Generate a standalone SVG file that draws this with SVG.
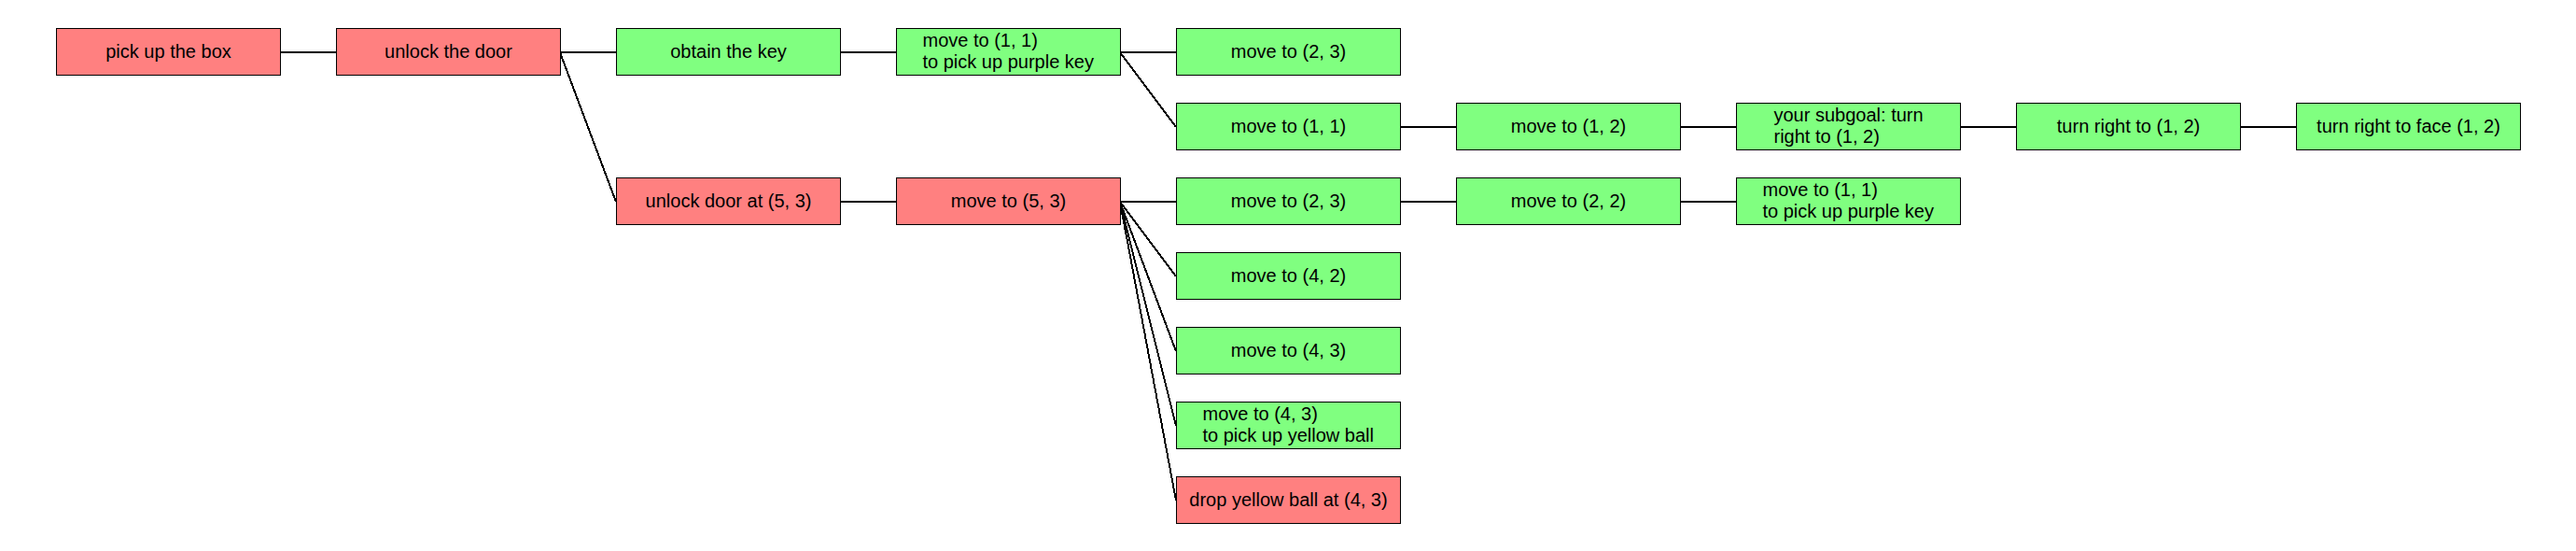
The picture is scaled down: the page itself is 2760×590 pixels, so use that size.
<svg xmlns="http://www.w3.org/2000/svg" width="2760" height="590" viewBox="0 0 2760 590">
<style>
.box{stroke:#000;stroke-width:1}
.r{fill:#FF8080}
.g{fill:#80FF80}
text{font-family:"Liberation Sans",Arial,sans-serif;font-size:20px;fill:#000}
.c{text-anchor:middle}
.e{stroke:#000;stroke-width:2;fill:none;shape-rendering:crispEdges}
</style>
<rect width="2760" height="590" fill="#fff"/>
<g id="connectors">
<line class="e" x1="300" y1="56" x2="360" y2="56"/>
<line class="e" x1="600" y1="56" x2="660" y2="56"/>
<line class="e" x1="600" y1="56" x2="660" y2="216"/>
<line class="e" x1="900" y1="56" x2="960" y2="56"/>
<line class="e" x1="1200" y1="56" x2="1260" y2="56"/>
<line class="e" x1="1200" y1="56" x2="1260" y2="136"/>
<line class="e" x1="1500" y1="136" x2="1560" y2="136"/>
<line class="e" x1="1800" y1="136" x2="1860" y2="136"/>
<line class="e" x1="2100" y1="136" x2="2160" y2="136"/>
<line class="e" x1="2400" y1="136" x2="2460" y2="136"/>
<line class="e" x1="900" y1="216" x2="960" y2="216"/>
<line class="e" x1="1200" y1="216" x2="1260" y2="216"/>
<line class="e" x1="1200" y1="216" x2="1260" y2="296"/>
<line class="e" x1="1200" y1="216" x2="1260" y2="376"/>
<line class="e" x1="1200" y1="216" x2="1260" y2="456"/>
<line class="e" x1="1200" y1="216" x2="1260" y2="536"/>
<line class="e" x1="1500" y1="216" x2="1560" y2="216"/>
<line class="e" x1="1800" y1="216" x2="1860" y2="216"/>
</g>
<g id="n1"><rect class="box r" x="60.5" y="30.5" width="240" height="50"/><text class="c" x="180.5" y="62">pick up the box</text></g>
<g id="n2"><rect class="box r" x="360.5" y="30.5" width="240" height="50"/><text class="c" x="480.5" y="62">unlock the door</text></g>
<g id="n3"><rect class="box g" x="660.5" y="30.5" width="240" height="50"/><text class="c" x="780.5" y="62">obtain the key</text></g>
<g id="n4"><rect class="box g" x="960.5" y="30.5" width="240" height="50"/><text x="988.5" y="50">move to (1, 1)</text><text x="988.5" y="73">to pick up purple key</text></g>
<g id="n5"><rect class="box g" x="1260.5" y="30.5" width="240" height="50"/><text class="c" x="1380.5" y="62">move to (2, 3)</text></g>
<g id="n6"><rect class="box g" x="1260.5" y="110.5" width="240" height="50"/><text class="c" x="1380.5" y="142">move to (1, 1)</text></g>
<g id="n7"><rect class="box g" x="1560.5" y="110.5" width="240" height="50"/><text class="c" x="1680.5" y="142">move to (1, 2)</text></g>
<g id="n8"><rect class="box g" x="1860.5" y="110.5" width="240" height="50"/><text x="1900.5" y="130">your subgoal: turn</text><text x="1900.5" y="153">right to (1, 2)</text></g>
<g id="n9"><rect class="box g" x="2160.5" y="110.5" width="240" height="50"/><text class="c" x="2280.5" y="142">turn right to (1, 2)</text></g>
<g id="n10"><rect class="box g" x="2460.5" y="110.5" width="240" height="50"/><text class="c" x="2580.5" y="142">turn right to face (1, 2)</text></g>
<g id="n11"><rect class="box r" x="660.5" y="190.5" width="240" height="50"/><text class="c" x="780.5" y="222">unlock door at (5, 3)</text></g>
<g id="n12"><rect class="box r" x="960.5" y="190.5" width="240" height="50"/><text class="c" x="1080.5" y="222">move to (5, 3)</text></g>
<g id="n13"><rect class="box g" x="1260.5" y="190.5" width="240" height="50"/><text class="c" x="1380.5" y="222">move to (2, 3)</text></g>
<g id="n14"><rect class="box g" x="1560.5" y="190.5" width="240" height="50"/><text class="c" x="1680.5" y="222">move to (2, 2)</text></g>
<g id="n15"><rect class="box g" x="1860.5" y="190.5" width="240" height="50"/><text x="1888.5" y="210">move to (1, 1)</text><text x="1888.5" y="233">to pick up purple key</text></g>
<g id="n16"><rect class="box g" x="1260.5" y="270.5" width="240" height="50"/><text class="c" x="1380.5" y="302">move to (4, 2)</text></g>
<g id="n17"><rect class="box g" x="1260.5" y="350.5" width="240" height="50"/><text class="c" x="1380.5" y="382">move to (4, 3)</text></g>
<g id="n18"><rect class="box g" x="1260.5" y="430.5" width="240" height="50"/><text x="1288.5" y="450">move to (4, 3)</text><text x="1288.5" y="473">to pick up yellow ball</text></g>
<g id="n19"><rect class="box r" x="1260.5" y="510.5" width="240" height="50"/><text class="c" x="1380.5" y="542">drop yellow ball at (4, 3)</text></g>
</svg>
